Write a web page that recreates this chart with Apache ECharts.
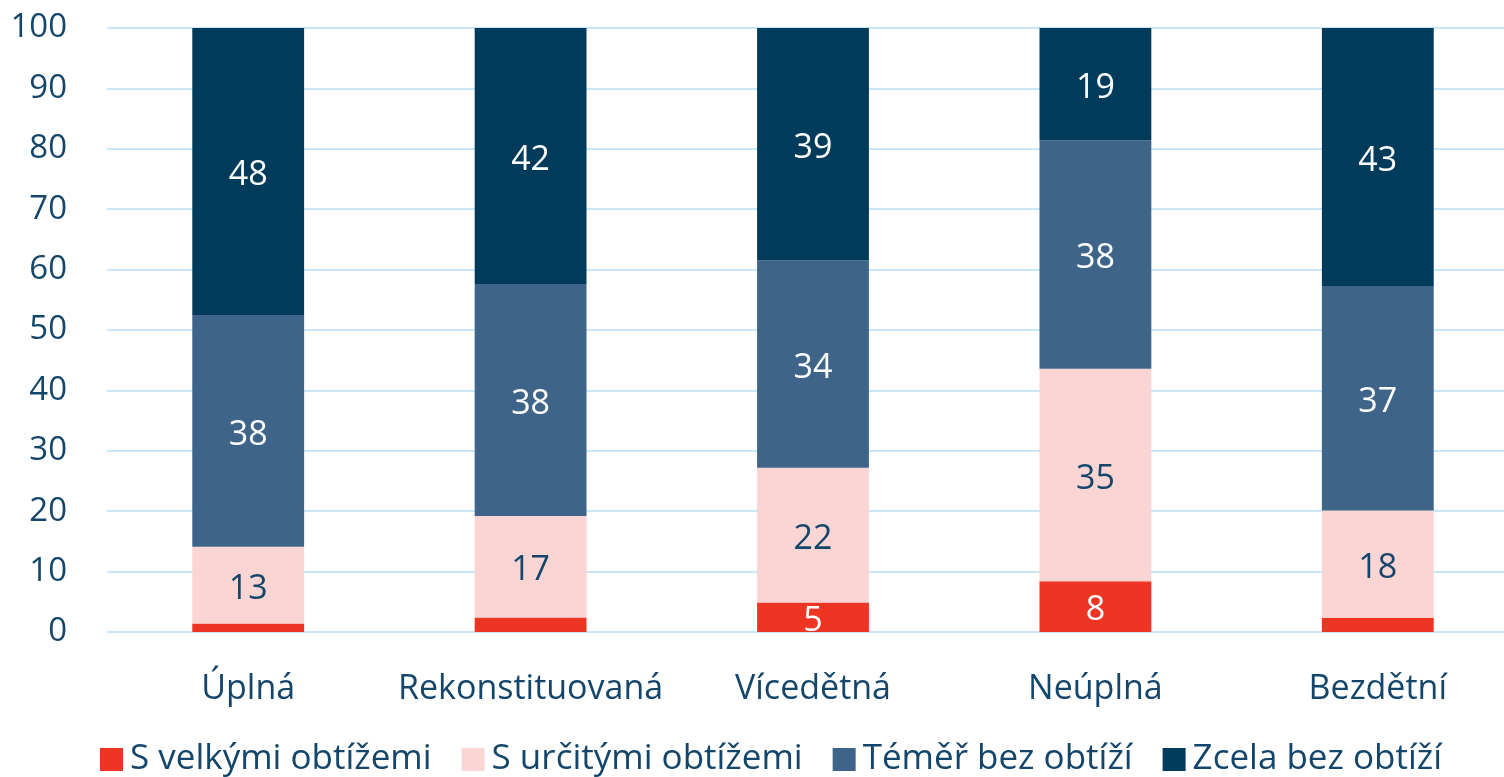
<!DOCTYPE html>
<html>
<head>
<meta charset="utf-8">
<script src="https://cdn.jsdelivr.net/npm/echarts@6/dist/echarts.min.js"></script>
<style>html,body{margin:0;padding:0;background:#fff}#c{width:1504px;height:777px}</style>
</head>
<body>
<div id="c"></div>
<script>
const categories = ['Úplná', 'Rekonstituovaná', 'Vícedětná', 'Neúplná', 'Bezdětní'];
const seriesNames = ['S velkými obtížemi', 'S určitými obtížemi', 'Téměř bez obtíží', 'Zcela bez obtíží'];
const sVelkymi = [1.4, 2.4, 4.9, 8.4, 2.3];
const sUrcitymi = [12.7, 16.8, 22.3, 35.2, 17.8];
const temerBez = [38.4, 38.4, 34.3, 37.8, 37.2];
const zcelaBez = [47.5, 42.4, 38.5, 18.6, 42.7];
const yTicks = [0, 10, 20, 30, 40, 50, 60, 70, 80, 90, 100];

const colors = ['#EE3524', '#FBD5D3', '#3E6589', '#003B5C'];
const labelColors = ['#ffffff', '#14466B', '#ffffff', '#ffffff'];
const textColor = '#14466B';
const font = '"Open Sans", sans-serif';

const dataSets = [sVelkymi, sUrcitymi, temerBez, zcelaBez];
const series = dataSets.map((d, i) => ({
  name: seriesNames[i],
  type: 'bar',
  stack: 'total',
  barWidth: '39.6%',
  data: d,
  itemStyle: { color: colors[i] },
  label: {
    show: true,
    position: 'inside',
    offset: [0, 4],
    color: labelColors[i],
    fontFamily: font,
    fontSize: 34,
    formatter: p => (p.value >= 4 ? Math.round(p.value) : '')
  }
}));

const chart = echarts.init(document.getElementById('c'));
chart.setOption({
  animation: false,
  color: colors,
  textStyle: { fontFamily: font },
  grid: { left: 107, width: 1412, top: 28, bottom: 145, outerBoundsMode: 'none', containLabel: false },
  legend: {
    data: seriesNames,
    bottom: -5,
    left: 95,
    itemWidth: 23,
    itemHeight: 23,
    itemGap: 30,
    icon: 'rect',
    textStyle: { color: textColor, fontSize: 35, fontFamily: font, padding: [0, 0, 0, 2] }
  },
  xAxis: {
    type: 'category',
    data: categories,
    axisLine: { show: false },
    axisTick: { show: false },
    axisLabel: { color: textColor, fontSize: 34, fontFamily: font, margin: 40, interval: 0 }
  },
  yAxis: {
    type: 'value',
    min: yTicks[0],
    max: yTicks[yTicks.length - 1],
    interval: 10,
    axisLine: { show: false },
    axisTick: { show: false },
    axisLabel: { color: textColor, fontSize: 33, fontFamily: font, margin: 40 },
    splitLine: { lineStyle: { color: '#C8E8F8', width: 2 } }
  },
  series: series
});
</script>
</body>
</html>
